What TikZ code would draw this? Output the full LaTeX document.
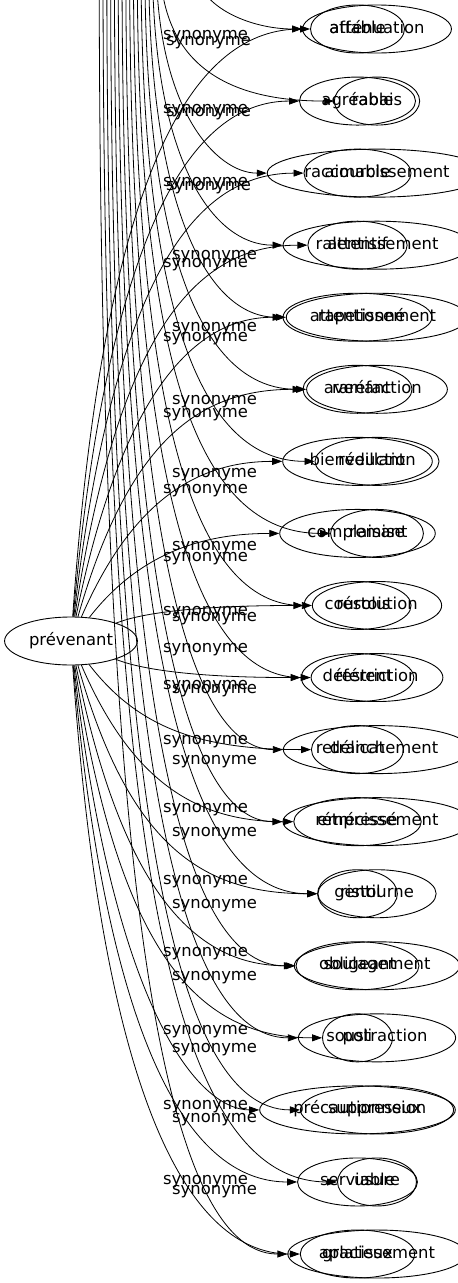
\documentclass[tikz,border=0pt]{standalone}
\usepackage{fontspec}
\setmainfont{DejaVu Sans}
\usetikzlibrary{shapes.geometric,arrows.meta}

\begin{document}
\begin{tikzpicture}[x=1pt,y=-1pt,font=\fontsize{16.4pt}{20pt}\selectfont,
    word/.style={draw,ellipse,line width=0.9pt,inner xsep=5pt,inner ysep=2pt,text height=12pt,text depth=4pt,minimum width=70pt,minimum height=48pt},
    syn/.style={line width=0.8pt,-{Triangle[length=10pt,width=7pt]}},
    lbl/.style={anchor=west,inner sep=0pt,text height=12pt,text depth=4pt}]
  \useasboundingbox (0,0) rectangle (458,1283);
  \clip (0,0) rectangle (458,1283);

  % prévenant
  \node[word] (prev) at (71,641) {prévenant};

  % synonymes de prévenant
  \foreach \w [count=\k] in {affable,agréable,aimable,attentif,attentionné,avenant,bienveillant,complaisant,courtois,déférent,délicat,empressé,gentil,obligeant,poli,précautionneux,serviable,gracieux}
    \node[word] (a\k) at (357.5,{29+72.06*(\k-1)}) {\w};

  % second graph, its centre lies above the page
  \foreach \w [count=\k] in {atténuation,rabais,raccourcissement,ralentissement,rapetissement,raréfaction,réduction,remise,résolution,restriction,retranchement,rétrécissement,ristourne,soulagement,soustraction,suppression,usure,aplatissement}
    \node[word] (b\k) at (377,{29+72.06*(\k-1)}) {\w};

  % edges from prévenant
  \foreach \k in {1,...,18} {
    \pgfmathsetmacro\ty{29+72.06*(\k-1)}
    \pgfmathsetmacro\cy{\ty-0.2*(\ty-641)}
    \pgfmathsetmacro\cx{105+40*(1-abs(\ty-641)/612)}
    \draw[syn] (prev) .. controls (\cx,\cy) and (200,\ty) .. (a\k);
  }

  % edges coming in from the top
  \foreach \k in {1,...,18} {
    \pgfmathsetmacro\ty{29+72.06*(\k-1)}
    \pgfmathsetmacro\sx{\k==1 ? 193 : 160-(\k-2)*3.8}
    \coordinate (top\k) at (\sx,-40);
    \draw[syn] (top\k) .. controls (\sx,{\ty-0.3*(\ty+40)}) and (\sx+60,\ty) .. (b\k);
  }

  % labels
  \foreach \x/\y [count=\i] in {163/35,166/41,163/109,166/112,163/182,166/186,
      172/255,163/263,172/327,163/337,172/400,163/413,172/473,163/489,172/546,163/557,
      163/611,172/617,163/648,163/685,172/689,
      163/740,172/760,163/808,172/832,163/880,172/904,163/952,172/976,
      163/1030,172/1048,163/1105,172/1118,163/1180,172/1190}
    \node[lbl] (s\i) at (\x,\y) {synonyme};
\end{tikzpicture}
\end{document}
